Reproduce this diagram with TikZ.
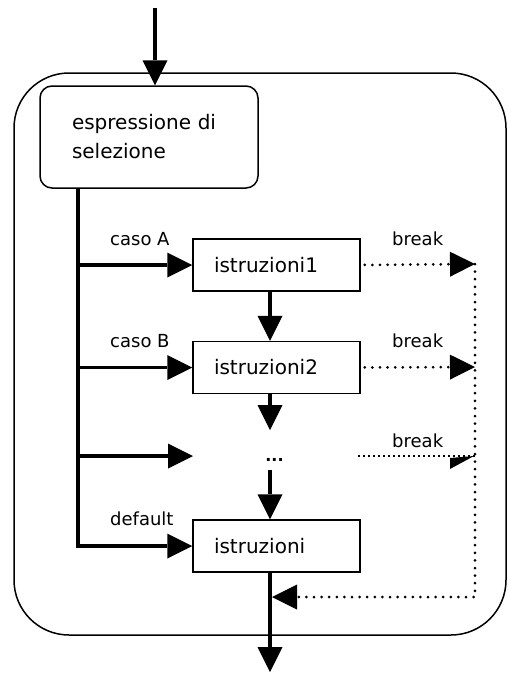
\documentclass[tikz,border=0pt]{standalone}
\usepackage{fontspec}
\setmainfont{DejaVu Sans}
\usetikzlibrary{arrows.meta}
\begin{document}
\begin{tikzpicture}[x=1pt,y=-1pt,
  tip/.tip={Triangle[length=25pt,width=25pt,line width=0pt]},
  flow/.style={line width=3.5pt, -tip},
  brk/.style={line width=3pt, line cap=round, dash pattern=on 0pt off 7.6pt, -tip},
  stepbox/.style={draw, line width=1.5pt, minimum width=167pt, minimum height=52pt,
    inner xsep=21pt, text width=125pt, align=left, font=\fontsize{20}{24}\selectfont},
  lbl/.style={font=\fontsize{18}{22}\selectfont, anchor=base west, inner sep=0pt},
]
\useasboundingbox (0,0) rectangle (507,673);

% outer frame of the switch construct
\draw[line width=1.5pt, rounded corners=55pt] (14,73) rectangle (506,635);

% selection expression
\node[draw, rounded corners=12pt, line width=1.5pt, minimum width=218pt, minimum height=102pt,
  inner xsep=32pt, text width=154pt, align=left, font=\fontsize{20}{29}\selectfont]
  (sel) at (149,137) {espressione di\\selezione};

% statement blocks
\node[stepbox] (b1) at (276.5,265) {istruzioni1};
\node[stepbox] (b2) at (276.5,367.5) {istruzioni2};
\node[stepbox] (b3) at (276.5,546) {istruzioni};
\node[font=\fontsize{16}{18}\selectfont\bfseries, inner sep=0pt] (ell) at (274.5,460) {...};

% helper points
\coordinate (in) at (155,8);
\coordinate (bus) at (78,546);
\coordinate (c3) at (193,456);
\coordinate (du) at (270,430);
\coordinate (dl) at (270,470);
\coordinate (out) at (270,672);
\coordinate (rc1) at (475,264);
\coordinate (rc2) at (475,367);
\coordinate (rc3) at (475,456);
\coordinate (rc4) at (475,597);
\coordinate (merge) at (272,597);
\coordinate (d3) at (358,456);

% entry and selection bus
\draw[flow] (in) -- (in |- sel.north);
\draw[flow, line join=miter] (bus |- sel.south) -- (bus) -- (b3.west);
\draw[flow] (bus |- b1.west) -- (b1.west);
\draw[flow] (bus |- b2.west) -- (b2.west);
\draw[flow] (bus |- c3) -- (c3);

% fall-through between cases
\draw[flow] (b1.south -| du) -- (b2.north -| du);
\draw[flow] (b2.south -| du) -- (du);
\draw[flow] (dl) -- (b3.north -| dl);
\draw[flow] (b3.south -| out) -- (out);

% break paths
\draw[brk, shorten <=4pt] (b1.east) -- (rc1);
\draw[brk, shorten <=4pt] (b2.east) -- (rc2);
\draw[line width=1.2pt, dash pattern=on 1.5pt off 3.5pt] (d3) -- (rc3);
\fill (450,458) -- (474,456) -- (450,469) -- cycle;
\draw[brk] (rc1) -- (rc4) -- (merge);

% labels
\node[lbl] (la) at (110,245) {caso A};
\node[lbl] (lb) at (110,347) {caso B};
\node[lbl] (ld) at (110,525) {default};
\node[lbl] (k1) at (392,245) {break};
\node[lbl] (k2) at (392,347) {break};
\node[lbl] (k3) at (392,447) {break};
\end{tikzpicture}
\end{document}
